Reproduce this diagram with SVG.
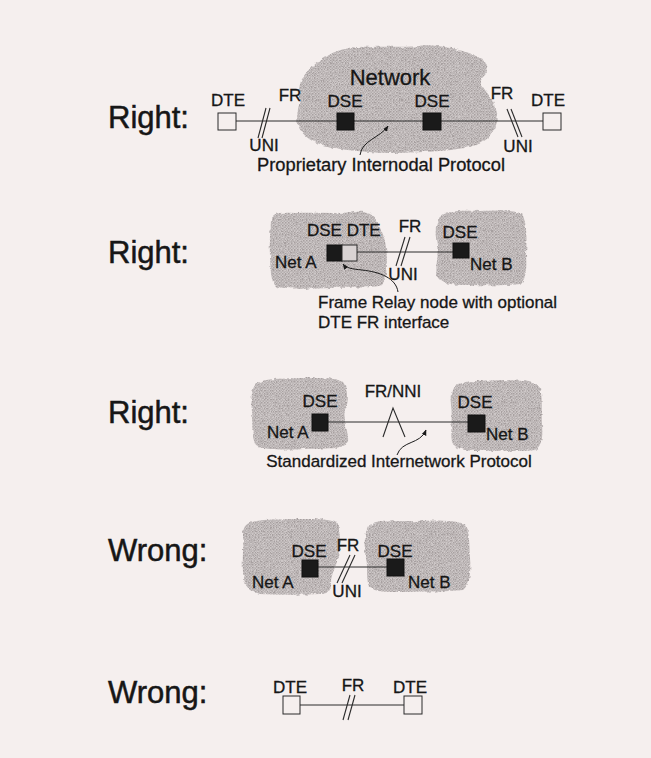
<svg xmlns="http://www.w3.org/2000/svg" width="651" height="758" viewBox="0 0 651 758">
<defs>
<pattern id="ht" width="3" height="3" patternUnits="userSpaceOnUse">
<rect width="3" height="3" fill="#cdc7c7"/>
<rect x="0" y="0" width="1.5" height="1.5" fill="#a7a0a0"/>
<rect x="1.5" y="1.5" width="1.5" height="1.5" fill="#b3adad"/>
</pattern>
<filter id="rough" x="-5%" y="-5%" width="110%" height="110%">
<feTurbulence type="fractalNoise" baseFrequency="0.2" numOctaves="2" seed="3"/>
<feDisplacementMap in="SourceGraphic" scale="3.5" xChannelSelector="R" yChannelSelector="G"/>
</filter>
<marker id="ah" viewBox="0 0 10 10" refX="9" refY="5" markerWidth="6" markerHeight="6" orient="auto">
<path d="M0,1 L10,5 L0,9 Z" fill="#1a1a1a"/>
</marker>
<style>
.bg{fill:#f5efee}
.cloud{fill:url(#ht);filter:url(#rough)}
.t{font-family:"Liberation Sans",Arial,sans-serif;fill:#161616;stroke:#161616;stroke-width:0.3;font-size:17px}
.big{font-family:"Liberation Sans",Arial,sans-serif;fill:#161616;stroke:#161616;stroke-width:0.5;font-size:31px}
.ln{stroke:#2a2a2a;stroke-width:1;fill:none}
.sl{stroke:#2a2a2a;stroke-width:1.1;fill:none}
.dte{fill:#f5efee;stroke:#2a2a2a;stroke-width:1}
.dse{fill:#1a1a1a;stroke:#111;stroke-width:1}
.arr{stroke:#1a1a1a;stroke-width:1;fill:none;marker-end:url(#ah)}
</style>
</defs>
<rect class="bg" x="0" y="0" width="651" height="758"/>

<!-- Clouds -->
<g id="clouds">
<path id="cloud1" class="cloud" d="M300,95 C296,80 310,66 325,58 C335,50 350,46 370,47 C390,46 410,48 425,45 C445,46 465,50 478,57 C490,63 490,72 482,78 C478,84 486,90 490,97 C496,106 500,118 496,126 C492,136 485,143 470,147 C450,151 425,152 400,153 C375,153 350,151 330,147 C312,143 302,136 298,125 C295,115 300,105 300,95 Z"/>
<path id="cloud2a" class="cloud" d="M271,220 C271,213 280,212 295,213 C315,212 335,214 355,212 C365,211 372,213 376,220 C380,228 385,235 386,248 C388,262 387,278 382,285 C370,289 350,287 330,288 C310,289 290,289 277,287 C270,282 271,270 270,255 C269,240 271,230 271,220 Z"/>
<path id="cloud2b" class="cloud" d="M439,218 C444,211 460,210 480,211 C500,210 515,210 522,214 C527,222 527,240 526,255 C527,268 526,280 520,284 C505,286 485,285 465,285 C450,285 440,283 437,276 C435,265 439,255 437,245 C435,235 435,225 439,218 Z"/>
<path id="cloud3a" class="cloud" d="M255,385 C261,378 280,379 300,378 C320,378 335,377 343,382 C349,390 347,400 345,410 C343,422 349,432 348,442 C344,450 325,448 305,449 C285,450 265,450 256,446 C251,436 253,425 252,412 C251,400 251,391 255,385 Z"/>
<path id="cloud3b" class="cloud" d="M455,386 C462,380 480,381 500,380 C520,380 535,381 540,388 C543,400 541,412 542,425 C543,437 542,446 535,450 C520,452 500,450 480,451 C465,451 455,449 452,442 C450,430 453,418 451,405 C450,396 451,390 455,386 Z"/>
<path id="cloud4a" class="cloud" d="M246,525 C252,519 270,520 290,519 C310,519 330,518 337,523 C341,530 339,542 340,552 C338,562 333,570 331,580 C332,588 330,594 320,594 C300,595 280,595 260,594 C248,592 244,585 243,572 C242,558 244,545 243,535 C243,530 244,527 246,525 Z"/>
<path id="cloud4b" class="cloud" d="M368,527 C375,520 395,521 415,521 C435,520 455,520 465,524 C470,532 469,545 470,558 C471,572 470,585 463,590 C445,592 425,591 405,592 C388,592 374,592 369,587 C366,578 368,568 366,558 C364,548 364,535 368,527 Z"/>
</g>

<!-- Labels -->
<g id="labels">
<text class="big" x="108" y="128">Right:</text>
<text class="big" x="108" y="263">Right:</text>
<text class="big" x="108" y="423">Right:</text>
<text class="big" x="108" y="561">Wrong:</text>
<text class="big" x="108" y="703">Wrong:</text>
</g>

<!-- Connectors -->
<g id="connectors">
<line class="ln" x1="236" y1="121" x2="543" y2="121"/>
<line class="sl" x1="266" y1="108" x2="258" y2="138"/>
<line class="sl" x1="270" y1="108" x2="262" y2="138"/>
<line class="sl" x1="507" y1="109" x2="518" y2="137"/>
<line class="sl" x1="511" y1="109" x2="522" y2="137"/>
<path class="arr" d="M360,155 C362,140 380,138 388,126"/>

<line class="ln" x1="357" y1="252" x2="453" y2="252"/>
<line class="sl" x1="405" y1="237" x2="396" y2="266"/>
<line class="sl" x1="410" y1="237" x2="401" y2="266"/>
<path class="arr" d="M398,292 C396,278 380,272 362,270 C352,269 346,268 343,264"/>

<line class="ln" x1="328" y1="422" x2="468" y2="422"/>
<polyline class="sl" points="383,437 393,408 405,437"/>
<path class="arr" d="M397,455 C402,440 420,445 426,430"/>

<line class="ln" x1="318" y1="567" x2="387" y2="567"/>
<line class="sl" x1="350" y1="555" x2="337" y2="583"/>
<line class="sl" x1="355" y1="555" x2="342" y2="583"/>

<line class="ln" x1="300" y1="705" x2="404" y2="705"/>
<line class="sl" x1="350" y1="695" x2="343" y2="720"/>
<line class="sl" x1="355" y1="695" x2="348" y2="720"/>
</g>

<!-- Section 1 -->
<g id="s1">
<text class="t" x="390" y="85" text-anchor="middle" style="font-size:22px">Network</text>
<g id="dte1a"><rect class="dte" x="218" y="113" width="18" height="17"/><text class="t" x="228" y="106" text-anchor="middle">DTE</text></g>
<text class="t" x="290" y="101" text-anchor="middle">FR</text>
<text class="t" x="264" y="151" text-anchor="middle">UNI</text>
<g id="dse1a"><rect class="dse" x="337" y="113" width="17" height="17"/><text class="t" x="345" y="107" text-anchor="middle">DSE</text></g>
<g id="dse1b"><rect class="dse" x="423" y="113" width="18" height="17"/><text class="t" x="432" y="107" text-anchor="middle">DSE</text></g>
<text class="t" x="502" y="99" text-anchor="middle">FR</text>
<text class="t" x="518" y="152" text-anchor="middle">UNI</text>
<g id="dte1b"><rect class="dte" x="543" y="113" width="18" height="17"/><text class="t" x="548" y="106" text-anchor="middle">DTE</text></g>
<text class="t" x="381" y="171" text-anchor="middle" style="font-size:18.3px">Proprietary Internodal Protocol</text>
</g>

<!-- Section 2 -->
<g id="s2">
<g id="dse2a"><rect class="dse" x="327" y="245" width="15" height="16"/></g>
<g id="dte2a"><rect class="dte" x="342" y="245" width="15" height="16" style="fill:#d9d3d3"/></g>
<text class="t" x="307" y="236">DSE DTE</text>
<text class="t" x="410" y="232" text-anchor="middle">FR</text>
<text class="t" x="403" y="280" text-anchor="middle">UNI</text>
<g id="dse2b"><rect class="dse" x="453" y="243" width="16" height="15"/><text class="t" x="460" y="238" text-anchor="middle">DSE</text></g>
<text class="t" x="275" y="268">Net A</text>
<text class="t" x="470" y="270">Net B</text>
<text class="t" x="318" y="308">Frame Relay node with optional</text>
<text class="t" x="318" y="328">DTE FR interface</text>
</g>

<!-- Section 3 -->
<g id="s3">
<g id="dse3a"><rect class="dse" x="312" y="414" width="16" height="17"/><text class="t" x="320" y="407" text-anchor="middle">DSE</text></g>
<g id="dse3b"><rect class="dse" x="468" y="415" width="17" height="17"/><text class="t" x="475" y="408" text-anchor="middle">DSE</text></g>
<text class="t" x="393" y="397" text-anchor="middle">FR/NNI</text>
<text class="t" x="267" y="438">Net A</text>
<text class="t" x="486" y="440">Net B</text>
<text class="t" x="399" y="467" text-anchor="middle">Standardized Internetwork Protocol</text>
</g>

<!-- Section 4 -->
<g id="s4">
<g id="dse4a"><rect class="dse" x="302" y="560" width="16" height="17"/><text class="t" x="309" y="557" text-anchor="middle">DSE</text></g>
<g id="dse4b"><rect class="dse" x="387" y="559" width="17" height="17"/><text class="t" x="395" y="557" text-anchor="middle">DSE</text></g>
<text class="t" x="348" y="551" text-anchor="middle">FR</text>
<text class="t" x="347" y="597" text-anchor="middle">UNI</text>
<text class="t" x="252" y="588">Net A</text>
<text class="t" x="408" y="588">Net B</text>
</g>

<!-- Section 5 -->
<g id="s5">
<g id="dte5a"><rect class="dte" x="283" y="696" width="17" height="18"/><text class="t" x="290" y="693" text-anchor="middle">DTE</text></g>
<text class="t" x="353" y="691" text-anchor="middle">FR</text>
<g id="dte5b"><rect class="dte" x="404" y="696" width="18" height="18"/><text class="t" x="410" y="693" text-anchor="middle">DTE</text></g>
</g>
</svg>
